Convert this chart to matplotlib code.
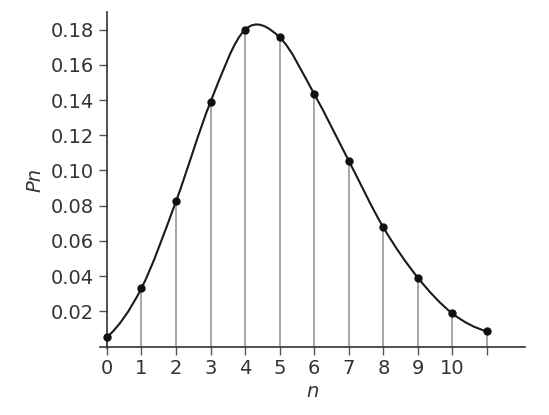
import numpy as np
import matplotlib.pyplot as plt
from matplotlib.path import Path
import matplotlib.patches as patches

# data
n = [0, 1, 2, 3, 4, 5, 6, 7, 8, 9, 10, 11]
pn = [0.0053, 0.0332, 0.0825, 0.139, 0.180, 0.1756, 0.1434, 0.1055, 0.0677, 0.0391, 0.0188, 0.0087]
xtick_labels = ["0", "1", "2", "3", "4", "5", "6", "7", "8", "9", "10", ""]
ytick_vals = [0.02, 0.04, 0.06, 0.08, 0.10, 0.12, 0.14, 0.16, 0.18]

fig = plt.figure(figsize=(5.49, 4.15), dpi=100)
ax = fig.add_axes([100 / 549, (415 - 348) / 415, (525 - 100) / 549, (348 - 12) / 415])

txt = "#333333"

# gray stems from each point down to the axis
ax.vlines(n, 0, pn, color="#a0a0a0", lw=1.3, zorder=1)

# smooth curve through the points (cubic Hermite as Bezier segments)
x = np.array(n, dtype=float)
y = np.array(pn)
m = np.empty_like(y)
m[1:-1] = (y[2:] - y[:-2]) / 2
m[0] = (-3 * y[0] + 4 * y[1] - y[2]) / 2
m[-1] = (3 * y[-1] - 4 * y[-2] + y[-3]) / 2
verts = [(x[0], y[0])]
codes = [Path.MOVETO]
for i in range(len(x) - 1):
    verts += [(x[i] + 1 / 3, y[i] + m[i] / 3),
              (x[i + 1] - 1 / 3, y[i + 1] - m[i + 1] / 3),
              (x[i + 1], y[i + 1])]
    codes += [Path.CURVE4, Path.CURVE4, Path.CURVE4]
ax.add_patch(patches.PathPatch(Path(verts, codes), fill=False, ec="#1a1a1a", lw=1.5, zorder=2))

ax.plot(n, pn, "o", color="#111111", ms=5, zorder=3)

ax.set_xlim(-0.2, 12.1)
ax.set_ylim(-0.0008, 0.19)
for s in ["top", "right"]:
    ax.spines[s].set_visible(False)
ax.spines["left"].set_position(("data", 0))
ax.spines["bottom"].set_position(("data", 0))
for s in ["left", "bottom"]:
    ax.spines[s].set_color("#333333")
    ax.spines[s].set_linewidth(1.2)

ax.set_xticks(n)
ax.set_xticklabels(xtick_labels)
ax.set_yticks(ytick_vals)
ax.set_yticklabels([f"{v:.2f}" for v in ytick_vals])
ax.tick_params(axis="both", colors="#555555", labelcolor=txt, labelsize=14, length=6, width=1.0)
ax.tick_params(axis="x", pad=3)

ax.set_xlabel("n", fontsize=14, style="italic", color=txt, labelpad=3)
ax.set_ylabel("Pn", fontsize=14, style="italic", color=txt, labelpad=4)

fig.savefig("out.png", dpi=100)
